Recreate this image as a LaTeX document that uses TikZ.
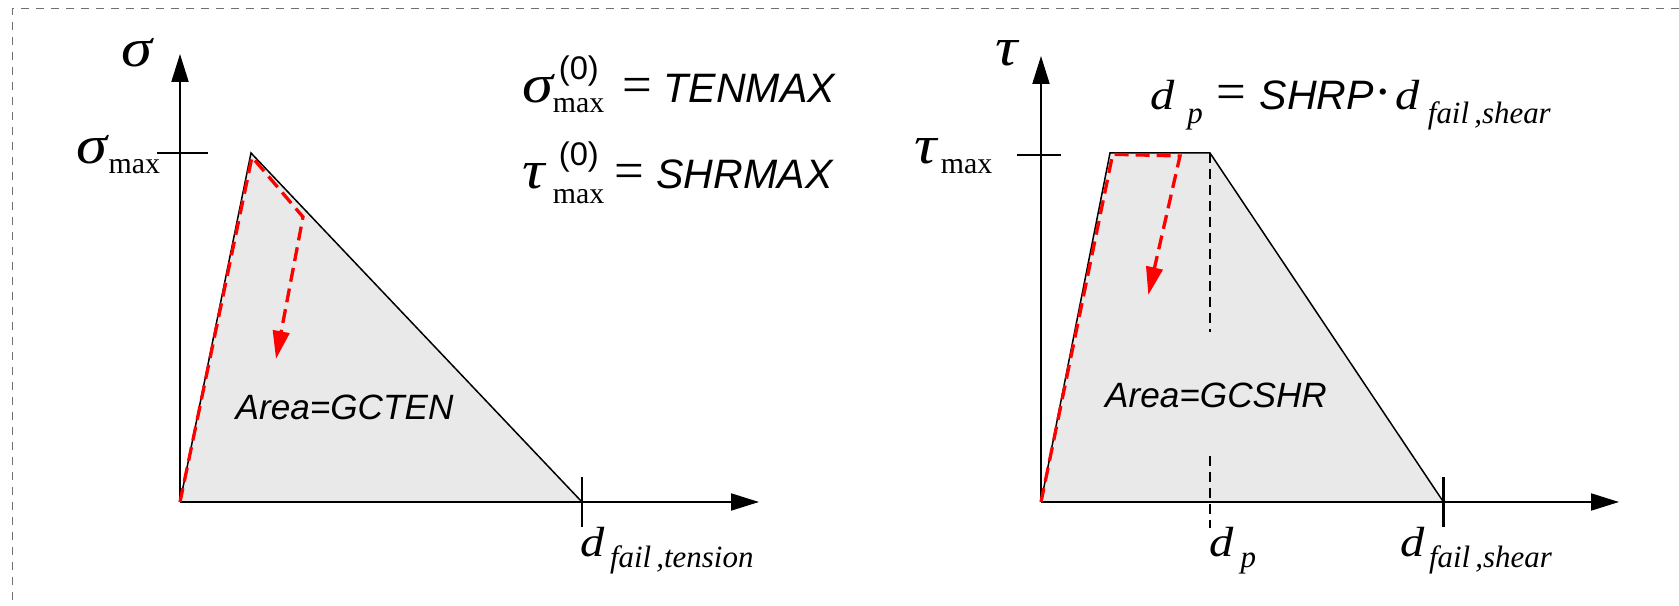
\documentclass[tikz,border=0pt]{standalone}
\usepackage{fontspec}
\setmainfont{Liberation Serif}
\setsansfont{Liberation Sans}
\usepackage{graphicx}
\usepackage{tikz}
\usetikzlibrary{arrows.meta,calc}
\definecolor{areagray}{RGB}{233,233,233}
\definecolor{framegray}{RGB}{112,112,112}
\newcommand{\grkfont}{\fontsize{15.5}{16}\selectfont\itshape}
\newcommand{\grk}[1]{\scalebox{1.15}[1]{\grkfont #1}}
\newcommand{\maxfont}{\fontsize{8.5}{9}\selectfont\upshape}
\newcommand{\zerofont}{\fontsize{9.3}{10}\selectfont\sffamily\upshape}
\newcommand{\dvarfont}{\fontsize{12}{13}\selectfont\itshape}
\newcommand{\dvar}{\scalebox{1.15}[1]{\dvarfont d}}
\newcommand{\dsubfont}{\fontsize{8.8}{9}\selectfont\itshape}
\newcommand{\eqfont}{\fontsize{15}{15}\selectfont\upshape}
\newcommand{\keyfont}{\fontsize{11.7}{12}\selectfont\sffamily\itshape}
\newcommand{\areafont}{\fontsize{10}{11}\selectfont\sffamily\itshape}

\begin{document}
\begin{tikzpicture}[
  axis/.style={line width=0.2mm,-{Triangle[length=2.8mm,width=1.7mm]}},
  edge/.style={line width=0.15mm},
  tickmark/.style={line width=0.28mm},
  loadpath/.style={red,line width=0.33mm,dash pattern=on 1.4mm off 0.7mm,
                   -{Triangle[length=2.8mm,width=1.65mm]}},
  guide/.style={line width=0.13mm,dash pattern=on 1mm off 0.6mm},
  frame/.style={framegray,line width=0.15mm,dash pattern=on 0.85mm off 0.65mm},
  lbl/.style={inner sep=0pt}]
  \useasboundingbox (0,0) rectangle (16.79,6.06);
  \draw[frame] (16.79,5.977) -- (0.123,5.977) -- (0.123,0);

  % tension
  \coordinate (O1) at (1.80,1.04);
  \coordinate (Y1) at (1.80,5.52);
  \coordinate (X1) at (7.59,1.04);
  \coordinate (P1) at (2.51,4.53);
  \coordinate (F1) at (5.82,1.04);
  \fill[areagray] (O1) -- (P1) -- (F1) -- cycle;
  \draw[edge] (O1) -- (P1) -- (F1);
  \draw[axis] (O1) -- (Y1);
  \draw[axis] (O1) -- (X1);
  \draw[tickmark] (1.57,4.53) -- (2.08,4.53);
  \draw[tickmark] ($(F1)+(0,0.25)$) -- ($(F1)+(0,-0.25)$);
  \draw[loadpath] (O1) -- (2.52,4.49) -- (3.03,3.89) -- (2.76,2.47);

  \node[lbl] (sig) at (1.365,5.53) {\grk{σ}};
  \node[lbl,anchor=base east] (sigmax) at (1.607,4.42)
    {\makebox[3.2mm][l]{\grk{σ}}\raisebox{-1mm}{\maxfont max}};
  \node[lbl,anchor=base west] (tenmax) at (5.217,5.03)
    {\makebox[3.05mm][l]{\grk{σ}}\rlap{\kern0.6mm\raisebox{2.3mm}{\zerofont (0)}}%
     \raisebox{-1mm}{\maxfont max}\kern1.85mm{\eqfont =}\kern1.1mm{\keyfont TENMAX}};
  \node[lbl,anchor=base west] (shrmax) at (5.217,4.17)
    {\makebox[3.05mm][l]{\grk{τ}}\rlap{\kern0.6mm\raisebox{2.3mm}{\zerofont (0)}}%
     \raisebox{-1.5mm}{\maxfont max}\kern1.0mm{\eqfont =}\kern1.25mm{\keyfont SHRMAX}};
  \node[lbl,anchor=base west] (dten) at (5.80,0.49)
    {\makebox[2.93mm][l]{\dvar}\raisebox{-1.1mm}{\dsubfont fail\,,tension}};
  \node[lbl] (gcten) at (3.445,1.985) {\areafont Area=GCTEN};

  % shear
  \coordinate (O2) at (10.41,1.04);
  \coordinate (Y2) at (10.41,5.50);
  \coordinate (X2) at (16.19,1.04);
  \coordinate (A2) at (11.10,4.53);
  \coordinate (B2) at (12.10,4.53);
  \coordinate (F2) at (14.435,1.04);
  \fill[areagray] (O2) -- (A2) -- (B2) -- (F2) -- cycle;
  \draw[edge] (O2) -- (A2) -- (B2) -- (F2);
  \draw[guide] (B2) -- (12.10,2.74);
  \draw[guide] (12.10,1.50) -- (12.10,0.78);
  \draw[axis] (O2) -- (Y2);
  \draw[axis] (O2) -- (X2);
  \draw[tickmark] (10.17,4.51) -- (10.61,4.51);
  \draw[tickmark] ($(F2)+(0,0.25)$) -- ($(F2)+(0,-0.25)$);
  \draw[loadpath] (O2) -- (11.127,4.517) -- (11.80,4.50) -- (11.483,3.11);

  \node[lbl] (tau) at (10.07,5.53) {\grk{τ}};
  \node[lbl,anchor=base east] (taumax) at (9.93,4.42)
    {\makebox[2.6mm][l]{\grk{τ}}\raisebox{-1mm}{\maxfont max}};
  \node[lbl,anchor=base west] (shrp) at (11.50,4.96)
    {\makebox[3.67mm][l]{\dvar}\raisebox{-1.4mm}{\dsubfont p}\kern1.4mm{\eqfont =}%
     \kern1.3mm{\keyfont SHRP}\kern0.1mm{\eqfont ·}\kern0.35mm%
     \makebox[3.2mm][l]{\dvar}\raisebox{-1.4mm}{\dsubfont fail\,,shear}};
  \node[lbl,anchor=base west] (dp) at (12.083,0.49)
    {\makebox[3.17mm][l]{\dvar}\raisebox{-1.1mm}{\dsubfont p}};
  \node[lbl,anchor=base west] (dshr) at (14.00,0.49)
    {\makebox[2.83mm][l]{\dvar}\raisebox{-1.1mm}{\dsubfont fail\,,shear}};
  \node[lbl] (gcshr) at (12.16,2.11) {\areafont Area=GCSHR};
\end{tikzpicture}
\end{document}
